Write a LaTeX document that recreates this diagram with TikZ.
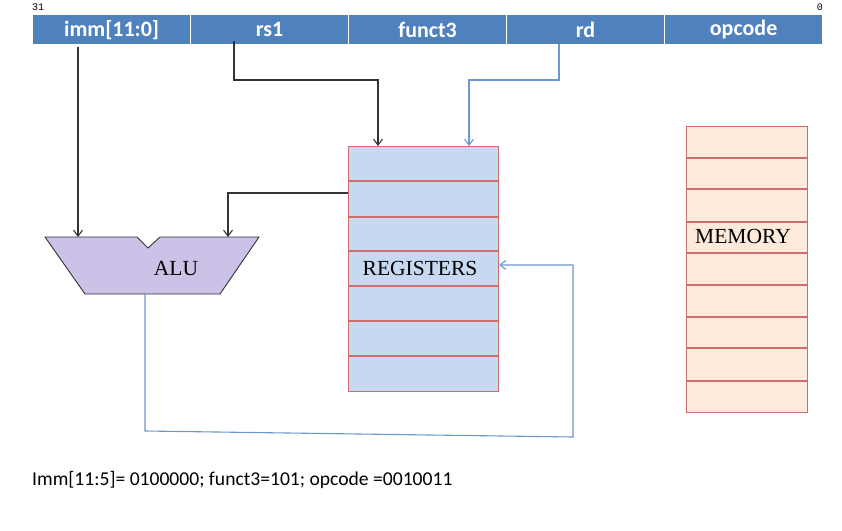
\documentclass[tikz,border=0pt]{standalone}
\usepackage{fontspec}
\setmainfont{Carlito}
\newfontfamily\serifx{Liberation Serif}
\newfontfamily\monox{Liberation Mono}
\usetikzlibrary{arrows.meta}
\definecolor{fieldblue}{HTML}{4F81BD}
\definecolor{lineblue}{HTML}{6F97CF}
\definecolor{regfill}{HTML}{C6D9F1}
\definecolor{rowred}{HTML}{CC6E6C}
\definecolor{memfill}{HTML}{FDEADA}
\definecolor{alufill}{HTML}{CCC1E6}
\definecolor{darkline}{HTML}{333333}
\tikzset{
  field/.style={fill=fieldblue, draw=white, line width=1.2pt, text=white,
    font=\fontsize{22}{24}\selectfont\bfseries, minimum width=158pt, minimum height=30pt,
    anchor=north west, inner sep=0pt},
  regbox/.style={fill=regfill, draw=rowred, line width=1.2pt, minimum width=150pt,
    minimum height=245pt, anchor=north west, inner sep=0pt},
  membox/.style={fill=memfill, draw=rowred, line width=1.2pt, minimum width=121pt,
    minimum height=286pt, anchor=north west, inner sep=0pt},
  rowline/.style={draw=rowred, line width=1.2pt},
  lbl/.style={font=\serifx\fontsize{21.5}{24}\selectfont, text=black, inner sep=0pt},
  blk/.style={draw=darkline, line width=1.1pt},
  blu/.style={draw=lineblue, line width=1.1pt},
  tip/.style={-{Straight Barb[length=6pt,width=9pt]}},
  bitno/.style={font=\monox\fontsize{10}{11}\selectfont, inner sep=0pt}
}
\begin{document}
\begin{tikzpicture}[x=1pt,y=-1pt]
\useasboundingbox (0,0) rectangle (842,530);
% instruction fields
\node[field] (imm) at (32,14) {imm[11:0]};
\node[field] (rs1) at (190,14) {rs1};
\node[field] (funct3) at (348,14) {funct3};
\node[field] (rd) at (506,14) {rd};
\node[field] (opcode) at (664,14) {opcode};
\node[bitno, anchor=south west] (b31) at (32,11) {31};
\node[bitno, anchor=south east] (b0) at (823,11) {0};
% registers
\node[regbox] (regs) at (348,146) {};
\foreach \y in {181,217,251,286,321,356} \draw[rowline] (348,\y) -- (498,\y);
\node[lbl] (reglbl) at (420,268) {REGISTERS};
% memory
\node[membox] (mem) at (686,126) {};
\foreach \y in {158,189,222,253,285,317,348,381} \draw[rowline] (686,\y) -- (807,\y);
\node[lbl] (memlbl) at (743,236) {MEMORY};
% ALU
\coordinate (a1) at (45,237);
\coordinate (a2) at (137,237);
\coordinate (a3) at (148,248);
\coordinate (a4) at (160,237);
\coordinate (a5) at (259,237);
\coordinate (a6) at (220,294);
\coordinate (a7) at (85,294);
\draw[fill=alufill, draw=darkline, line width=0.9pt] (a1) -- (a2) -- (a3) -- (a4) -- (a5) -- (a6) -- (a7) -- cycle;
\node[lbl] (alulbl) at (176,269) {ALU};
\coordinate (aluinA) at (78,237);
\coordinate (aluinB) at (228,237);
\coordinate (aluout) at (145,294);
% connectors
\coordinate (immsrc) at (78,47);
\draw[blk, tip] (immsrc) -- (aluinA);
\coordinate (rs1src) at (234,41);
\coordinate (regin1) at (378,146);
\draw[blk, tip] (rs1src) -- (234,80) -| (regin1);
\coordinate (rdsrc) at (559,44);
\coordinate (regin2) at (469,146);
\draw[blu, tip] (rdsrc) -- (559,80) -| (regin2);
\coordinate (regout) at (348,193);
\draw[blk, tip] (regout) -| (aluinB);
\coordinate (wb1) at (145,431);
\coordinate (wb2) at (573,437);
\coordinate (wb3) at (573,265);
\coordinate (regin3) at (499,265);
\draw[blu, tip] (aluout) -- (wb1) -- (wb2) -- (wb3) -- (regin3);
% bottom text
\node[anchor=west, inner sep=0pt, font=\fontsize{19.6}{22}\selectfont] (note) at (32,480) {Imm[11:5]= 0100000; funct3=101; opcode =0010011};
\end{tikzpicture}
\end{document}
